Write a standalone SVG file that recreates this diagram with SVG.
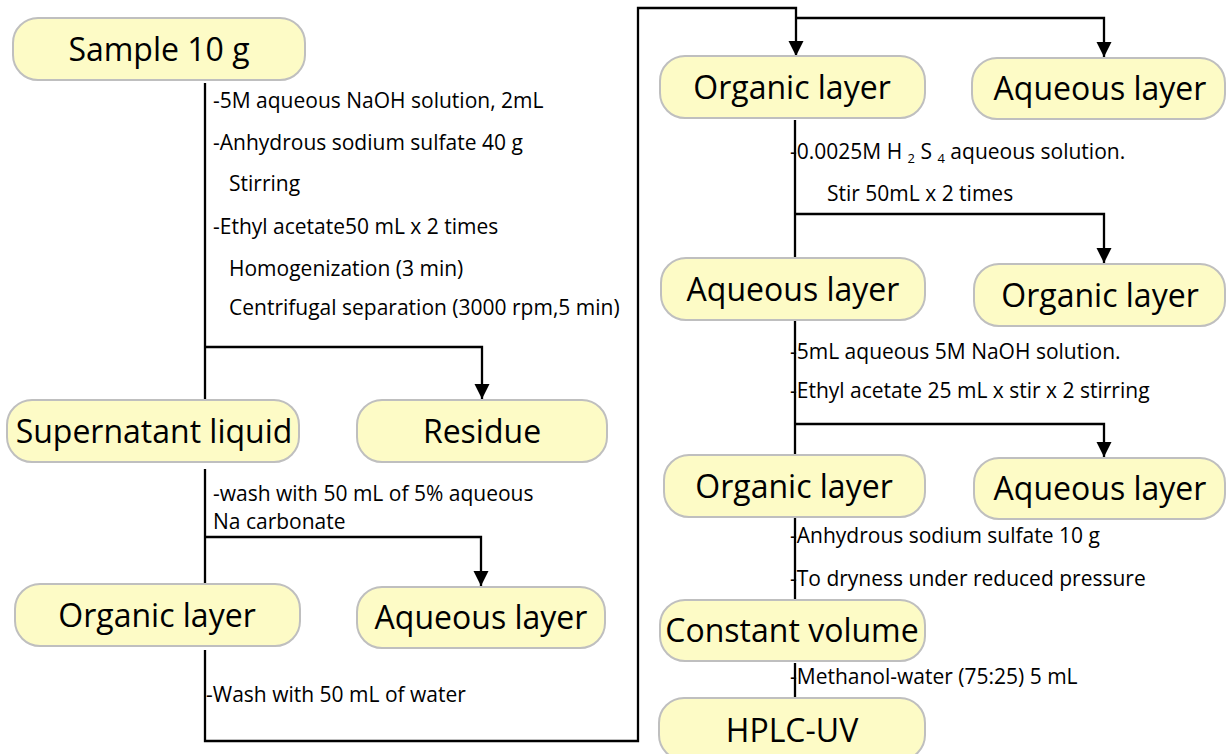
<svg xmlns="http://www.w3.org/2000/svg" width="1228" height="754" viewBox="0 0 1228 754">
<style>
.node rect{fill:#FDFBC6;stroke:#BFBFBF;stroke-width:2}
.node text{font-family:"Open Sans","Liberation Sans",sans-serif;font-size:32px;fill:#000;text-anchor:middle}
.lbl{font-family:"Open Sans","Liberation Sans",sans-serif;font-size:21px;fill:#000}
.sub{font-size:13px}
#connectors path,#connectors line{fill:none;stroke:#000;stroke-width:2.3}
</style>
<defs>
<marker id="arr" markerUnits="userSpaceOnUse" markerWidth="16" markerHeight="16" refX="15" refY="8" orient="auto">
<path d="M0,0.5 L15,8 L0,15.5 z" fill="#000"/>
</marker>
</defs>
<rect width="1228" height="754" fill="#fff"/>
<g id="connectors">
<line x1="205" y1="83" x2="205" y2="399"/>
<path d="M205,347 H482 V399" marker-end="url(#arr)"/>
<line x1="205" y1="469" x2="205" y2="584"/>
<path d="M205,537 H481 V586" marker-end="url(#arr)"/>
<path d="M205,650 V741 H638 V8 H796 V56" marker-end="url(#arr)"/>
<path d="M796,18 H1104 V57" marker-end="url(#arr)"/>
<line x1="795" y1="120" x2="795" y2="258"/>
<path d="M795,214 H1104 V263" marker-end="url(#arr)"/>
<line x1="795" y1="321" x2="795" y2="455"/>
<path d="M795,424 H1104 V457" marker-end="url(#arr)"/>
<line x1="795" y1="518" x2="795" y2="600"/>
<line x1="795" y1="663" x2="795" y2="698"/>
</g>
<g id="labels">
<text class="lbl" x="213" y="108">-5M aqueous NaOH solution, 2mL</text>
<text class="lbl" x="213" y="150">-Anhydrous sodium sulfate 40 g</text>
<text class="lbl" x="229" y="191">Stirring</text>
<text class="lbl" x="213" y="234">-Ethyl acetate50 mL x 2 times</text>
<text class="lbl" x="229" y="276">Homogenization (3 min)</text>
<text class="lbl" x="229" y="315">Centrifugal separation (3000 rpm,5 min)</text>
<text class="lbl" x="213" y="501">-wash with 50 mL of 5% aqueous</text>
<text class="lbl" x="213" y="529">Na carbonate</text>
<text class="lbl" x="206" y="702">-Wash with 50 mL of water</text>
<text class="lbl" x="790" y="159">-0.0025M H <tspan class="sub" dy="4">2</tspan><tspan dy="-4"> S </tspan><tspan class="sub" dy="4">4</tspan><tspan dy="-4"> aqueous solution.</tspan></text>
<text class="lbl" x="827" y="201">Stir 50mL x 2 times</text>
<text class="lbl" x="790" y="359">-5mL aqueous 5M NaOH solution.</text>
<text class="lbl" x="790" y="398">-Ethyl acetate 25 mL x stir x 2 stirring</text>
<text class="lbl" x="790" y="543">-Anhydrous sodium sulfate 10 g</text>
<text class="lbl" x="790" y="586">-To dryness under reduced pressure</text>
<text class="lbl" x="790" y="684">-Methanol-water (75:25) 5 mL</text>
</g>
<g id="n-sample" class="node"><rect x="13" y="18" width="292" height="62" rx="25"/><text x="159" y="61">Sample 10 g</text></g>
<g id="n-supernatant" class="node"><rect x="7" y="400" width="292" height="62" rx="25"/><text x="154" y="443">Supernatant liquid</text></g>
<g id="n-residue" class="node"><rect x="357" y="400" width="250" height="62" rx="25"/><text x="482" y="443">Residue</text></g>
<g id="n-organic1" class="node"><rect x="15" y="584" width="285" height="62" rx="25"/><text x="157" y="627">Organic layer</text></g>
<g id="n-aqueous1" class="node"><rect x="357" y="587" width="248" height="61" rx="25"/><text x="481" y="629">Aqueous layer</text></g>
<g id="n-organic2" class="node"><rect x="660" y="56" width="265" height="62" rx="25"/><text x="792" y="99">Organic layer</text></g>
<g id="n-aqueous2" class="node"><rect x="972" y="58" width="253" height="61" rx="25"/><text x="1100" y="100">Aqueous layer</text></g>
<g id="n-aqueous3" class="node"><rect x="661" y="258" width="264" height="62" rx="25"/><text x="793" y="301">Aqueous layer</text></g>
<g id="n-organic3" class="node"><rect x="974" y="264" width="251" height="62" rx="25"/><text x="1100" y="307">Organic layer</text></g>
<g id="n-organic4" class="node"><rect x="664" y="455" width="261" height="62" rx="25"/><text x="794" y="498">Organic layer</text></g>
<g id="n-aqueous4" class="node"><rect x="974" y="458" width="251" height="61" rx="25"/><text x="1100" y="500">Aqueous layer</text></g>
<g id="n-constant" class="node"><rect x="660" y="600" width="265" height="61" rx="25"/><text x="792" y="642">Constant volume</text></g>
<g id="n-hplc" class="node"><rect x="659" y="698" width="266" height="62" rx="25"/><text x="792" y="742">HPLC-UV</text></g>
</svg>
